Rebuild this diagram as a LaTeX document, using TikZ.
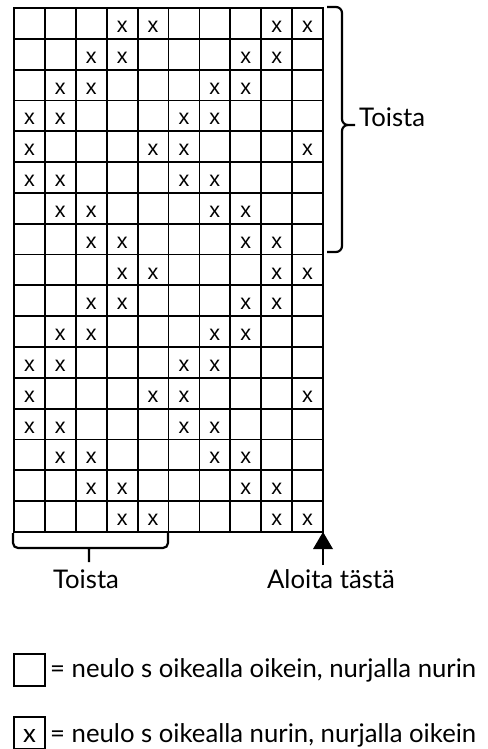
\documentclass[tikz,border=0pt]{standalone}
\usepackage{fontspec}
\setmainfont{Lato}
\newfontfamily\cellfont{Liberation Sans}
\begin{document}
\begin{tikzpicture}[x=1pt,y=-1pt,
  gridline/.style={line width=1.8pt, line cap=rect},
  bracestyle/.style={line width=2.2pt, line join=round},
  cellx/.style={inner sep=0pt, anchor=base, font=\cellfont\fontsize{21.5}{21.5}\selectfont},
  lbl/.style={inner sep=0pt, font=\fontsize{25.7}{25.7}\selectfont},
  legbox/.style={draw, line width=1.6pt, minimum width=31pt, minimum height=32pt, inner sep=0pt}]
\useasboundingbox (0,0) rectangle (487,749);
\def\cw{30.9}
\def\ch{30.82}
% grid
\foreach \i in {0,...,10} \draw[gridline] ({14+\i*\cw},8) -- ({14+\i*\cw},{8+17*\ch});
\foreach \j in {0,...,17} \draw[gridline] (14,{8+\j*\ch}) -- ({14+10*\cw},{8+\j*\ch});
\foreach \r/\cols in {1/{4,5,9,10},2/{3,4,8,9},3/{2,3,7,8},4/{1,2,6,7},5/{1,5,6,10},6/{1,2,6,7},7/{2,3,7,8},8/{3,4,8,9},9/{4,5,9,10},10/{3,4,8,9},11/{2,3,7,8},12/{1,2,6,7},13/{1,5,6,10},14/{1,2,6,7},15/{2,3,7,8},16/{3,4,8,9},17/{4,5,9,10}}{
  \foreach \c in \cols {
    \node[cellx] (x-\r-\c) at ({14+(\c-0.5)*\cw},{8+(\r-1)*\ch+24.5}) {x};
  }
}
\coordinate (corner) at ({14+10*\cw},{8+17*\ch});
% right brace
\draw[bracestyle] (327,7) -- (336,7) to[out=0,in=90] (342,13) -- (342,119) to[out=-90,in=180] (348,125) -- (355,125)
  (355,125) -- (348,125) to[out=180,in=90] (342,131) -- (342,246) to[out=-90,in=0] (336,252) -- (327,252);
\node[lbl, anchor=base west] (toista1) at (359,126) {Toista};
% bottom brace
\draw[bracestyle] (13,533) -- (13,543) to[out=-90,in=180] (18,548) -- (163,548) to[out=0,in=-90] (168,543) -- (168,533)
  (89,548) -- (89,562);
\node[lbl, anchor=base] (toista2) at (86,588) {Toista};
% arrow
\node[lbl, anchor=base] (aloita) at (331,588) {Aloita tästä};
\coordinate (arrstart) at (323,565);
\draw[line width=1.2pt] (arrstart) -- (323,548);
\fill (corner) -- (313,549) -- (333,549) -- cycle;
% legend
\node[legbox] (leg1) at (29.5,670) {};
\node[lbl, anchor=base west] (legtext1) at (50,677) {= neulo s oikealla oikein, nurjalla nurin};
\node[legbox] (leg2) at (29.5,733) {};
\node[lbl, anchor=base] (legx) at (29.5,742) {x};
\node[lbl, anchor=base west] (legtext2) at (50,742) {= neulo s oikealla nurin, nurjalla oikein};
\end{tikzpicture}
\end{document}
